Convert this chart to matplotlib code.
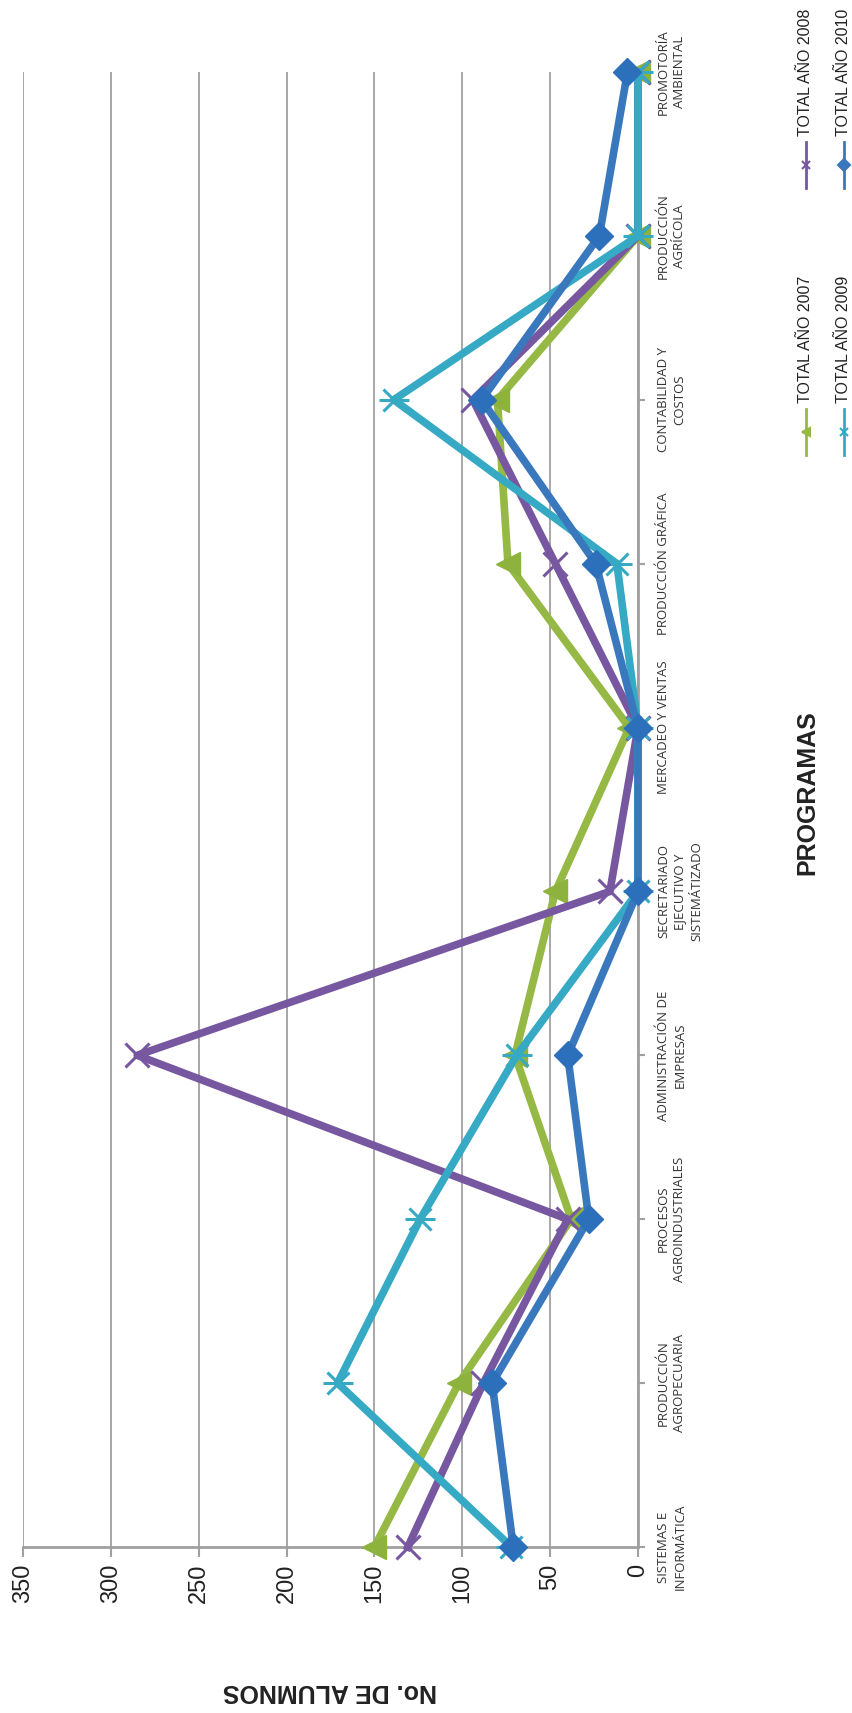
import numpy as np
import matplotlib
matplotlib.use("Agg")
import matplotlib.pyplot as plt
from matplotlib.lines import Line2D

# programas (de abajo hacia arriba en la figura girada)
programas = ["SISTEMAS E\nINFORMÁTICA", "PRODUCCIÓN\nAGROPECUARIA",
             "PROCESOS\nAGROINDUSTRIALES", "ADMINISTRACIÓN DE\nEMPRESAS",
             "SECRETARIADO\nEJECUTIVO Y\nSISTEMÁTIZADO", "MERCADEO Y VENTAS",
             "PRODUCCIÓN GRÁFICA", "CONTABILIDAD Y\nCOSTOS",
             "PRODUCCIÓN\nAGRÍCOLA", "PROMOTORÍA\nAMBIENTAL"]

total_2007 = [150, 102, 38, 70, 47, 5, 74, 80, 0, 0]
total_2008 = [131, 88, 40, 285, 16, 0, 47, 94, 0, 0]
total_2009 = [72, 171, 124, 69, 0, 0, 12, 139, 0, 0]
total_2010 = [71, 83, 28, 40, 0, 0, 24, 89, 22, 6]

ticks_valor = [0, 50, 100, 150, 200, 250, 300, 350]

W, H = 853, 1713
fig = plt.figure(figsize=(W / 100, H / 100), dpi=100)


def fx(px):
    return px / W


def fy(py):
    return 1 - py / H


ax = fig.add_axes([fx(23), fy(1547), fx(638) - fx(23), fy(72) - fy(1547)])

verde = '#95B944'
morado = '#7657A0'
cian = '#36A9C5'
azul = '#3A78BE'
gris = '#A0A0A3'

pos = np.arange(len(programas))
lw = 5.5

ax.plot(total_2007, pos, color=verde, lw=lw, marker='<', ms=17,
        mfc='#8DB33E', mec='#8DB33E', clip_on=False, zorder=3)
ax.plot(total_2008, pos, color=morado, lw=lw, marker='x', ms=17,
        mew=2.2, clip_on=False, zorder=4)
ax.plot(total_2009, pos, color=cian, lw=lw, clip_on=False, zorder=5)
ax.plot(total_2009, pos, ls='none', color=cian, marker='x', ms=16,
        mew=2.2, clip_on=False, zorder=5)
ax.plot(total_2009, pos, ls='none', color=cian, marker='_', ms=22,
        mew=2.2, clip_on=False, zorder=5)
ax.plot(total_2010, pos, color=azul, lw=lw, marker='D', ms=14,
        mfc='#2C6FBB', mec='#2C6FBB', clip_on=False, zorder=6)

ax.set_xlim(350, 0)
ax.set_ylim(0, len(programas) - 1)

ax.set_xticks(ticks_valor)
ax.set_xticklabels([str(t) for t in ticks_valor], rotation=90,
                   fontsize=17, family='Liberation Sans', color='#222222')
ax.tick_params(axis='x', length=7, width=1.5, color=gris, pad=5)
ax.grid(axis='x', color=gris, lw=1.3)
ax.set_axisbelow(True)

ax.yaxis.tick_right()
ax.set_yticks(pos)
ax.set_yticklabels([])
ax.tick_params(axis='y', length=5, width=1.5, color=gris)

for s in ['top', 'left']:
    ax.spines[s].set_visible(False)
for s in ['bottom', 'right']:
    ax.spines[s].set_color(gris)
    ax.spines[s].set_linewidth(2)

# etiquetas de programas, giradas
for p, nombre in zip(pos, programas):
    ax.text(fx(657), 0, nombre, transform=ax.transData, alpha=0)
    fig.text(fx(657), fy(1547 - p * (1547 - 72) / 9), nombre, rotation=90,
             rotation_mode='anchor', ha='center', va='top',
             multialignment='center', fontsize=9.5, family='Open Sans',
             color='#333333', linespacing=1.35)

fig.text(fx(330), fy(1691), 'No. DE ALUMNOS', rotation=180,
         ha='center', va='center', fontsize=18, fontweight='bold',
         family='Liberation Sans', color='#222222')
fig.text(fx(807), fy(793), 'PROGRAMAS', rotation=90,
         ha='center', va='center', fontsize=18, fontweight='bold',
         family='Liberation Sans', color='#222222')

# leyenda
leyenda = [
    ('TOTAL AÑO 2007', verde, '<', 806, 455),
    ('TOTAL AÑO 2008', morado, 'x', 806, 188),
    ('TOTAL AÑO 2009', cian, 'x', 844, 455),
    ('TOTAL AÑO 2010', azul, 'D', 844, 188),
]
for texto, c, m, x, y0 in leyenda:
    fig.add_artist(Line2D([fx(x), fx(x)], [fy(y0), fy(y0 - 46)],
                          color=c, lw=2, transform=fig.transFigure))
    fig.add_artist(Line2D([fx(x)], [fy(y0 - 23)], color=c, marker=m,
                          ms=6, mew=1.5, transform=fig.transFigure))
    fig.text(fx(x), fy(y0 - 52), texto, rotation=90, rotation_mode='anchor',
             ha='left', va='center', fontsize=11.5, family='Liberation Sans',
             color='#222222')

fig.savefig('out.png', dpi=100, facecolor='white')
